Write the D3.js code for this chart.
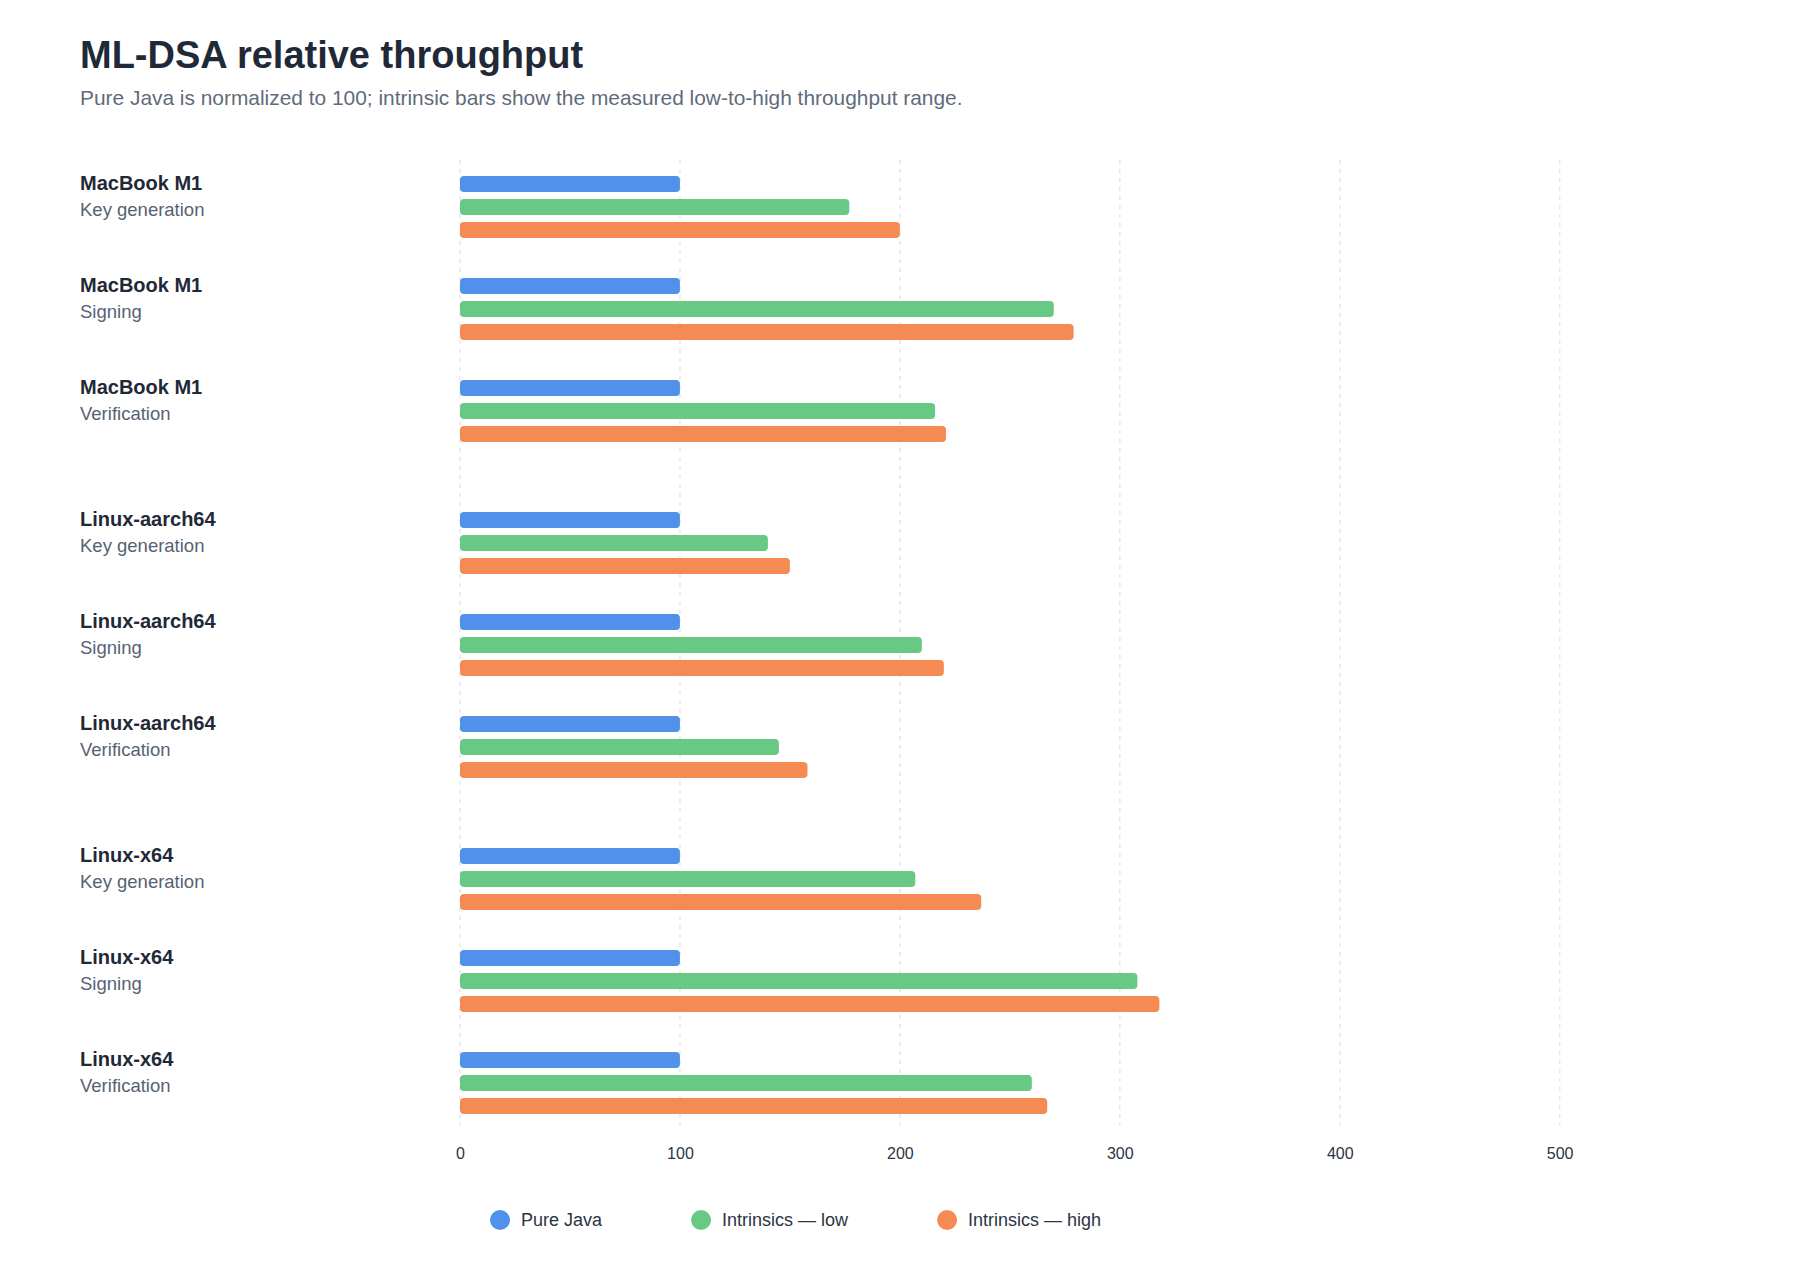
<!DOCTYPE html>
<html>
<head>
<meta charset="utf-8">
<script src="https://cdn.jsdelivr.net/npm/d3@7"></script>
<style>
  body { margin: 0; background: #ffffff; }
  svg { display: block; font-family: "Liberation Sans", Arial, Helvetica, sans-serif; }
</style>
</head>
<body>
<svg id="chart"></svg>
<script>
// chart data
const platforms = ["MacBook M1", "Linux-aarch64", "Linux-x64"];
const operations = ["Key generation", "Signing", "Verification"];
const seriesNames = ["Pure Java", "Intrinsics \u2014 low", "Intrinsics \u2014 high"];
const pureJava = [100, 100, 100, 100, 100, 100, 100, 100, 100];
const intrinsicsLow = [177, 270, 216, 140, 210, 145, 207, 308, 260];
const intrinsicsHigh = [200, 279, 221, 150, 220, 158, 237, 318, 267];
const xTicks = [0, 100, 200, 300, 400, 500];

const width = 1800, height = 1280;
const colors = ["#5091eb", "#68c984", "#f58a52"];

const svg = d3.select("#chart").attr("width", width).attr("height", height);

svg.append("text")
    .attr("x", 80).attr("y", 68)
    .attr("font-size", 38).attr("font-weight", 700)
    .attr("fill", "#1f2937")
    .text("ML-DSA relative throughput");

svg.append("text")
    .attr("x", 80).attr("y", 105)
    .attr("font-size", 20.9)
    .attr("fill", "#5f6b7c")
    .text("Pure Java is normalized to 100; intrinsic bars show the measured low-to-high throughput range.");

// flatten into rows: one row per platform/operation pair
let rows = [];
platforms.forEach((p, i) => {
    operations.forEach((o, j) => {
        let k = i * operations.length + j;
        rows.push({platform: p, op: o, values: [pureJava[k], intrinsicsLow[k], intrinsicsHigh[k]]});
    });
});

let x = d3.scaleLinear().domain([0, 582]).range([460, 1740]);

let yPlatform = d3.scaleBand()
    .domain(platforms)
    .range([156, 1134])
    .paddingInner(30 / 336);

let yOp = d3.scaleBand()
    .domain(operations)
    .range([0, yPlatform.bandwidth()]);

let ySeries = d3.scaleBand()
    .domain(d3.range(seriesNames.length))
    .range([20, 82])
    .paddingInner(7 / 23);

// dashed vertical grid
let grid = svg.append("g").attr("class", "grid");
grid.selectAll("line")
    .data(xTicks)
    .enter().append("line")
    .attr("x1", d => x(d)).attr("x2", d => x(d))
    .attr("y1", 160).attr("y2", 1126)
    .attr("stroke", "#e5e7eb")
    .attr("stroke-width", 1.5)
    .attr("stroke-dasharray", "4 5");

// tick labels
let axis = svg.append("g")
    .attr("transform", "translate(0,1126)")
    .call(d3.axisBottom(x).tickValues(xTicks).tickSize(0).tickPadding(22));
axis.select(".domain").remove();
axis.selectAll("text")
    .attr("font-size", 16)
    .attr("font-family", "Liberation Sans, Arial, sans-serif")
    .attr("fill", "#2b3544");

let rowG = svg.selectAll("g.row")
    .data(rows)
    .enter().append("g")
    .attr("class", "row")
    .attr("transform", d => "translate(0," + (yPlatform(d.platform) + yOp(d.op)) + ")");

rowG.append("text")
    .attr("x", 80).attr("y", 34)
    .attr("font-size", 20).attr("font-weight", 700)
    .attr("fill", "#1f2937")
    .text(d => d.platform);

rowG.append("text")
    .attr("x", 80).attr("y", 60)
    .attr("font-size", 18.5)
    .attr("fill", "#566275")
    .text(d => d.op);

rowG.selectAll("rect")
    .data(d => d.values)
    .enter().append("rect")
    .attr("x", x(0))
    .attr("y", (d, i) => ySeries(i))
    .attr("width", d => x(d) - x(0))
    .attr("height", ySeries.bandwidth())
    .attr("rx", 4).attr("ry", 4)
    .attr("fill", (d, i) => colors[i]);

// legend, items laid out by measured text width
let legend = svg.append("g").attr("transform", "translate(0,1220)");
let lx = 500;
seriesNames.forEach((name, i) => {
    let item = legend.append("g").attr("transform", "translate(" + lx + ",0)");
    item.append("circle").attr("r", 10).attr("fill", colors[i]);
    let t = item.append("text")
        .attr("x", 21).attr("dy", "0.35em")
        .attr("font-size", 18)
        .attr("fill", "#2b3544")
        .text(name);
    lx += 21 + t.node().getComputedTextLength() + 99;
});
</script>
</body>
</html>
